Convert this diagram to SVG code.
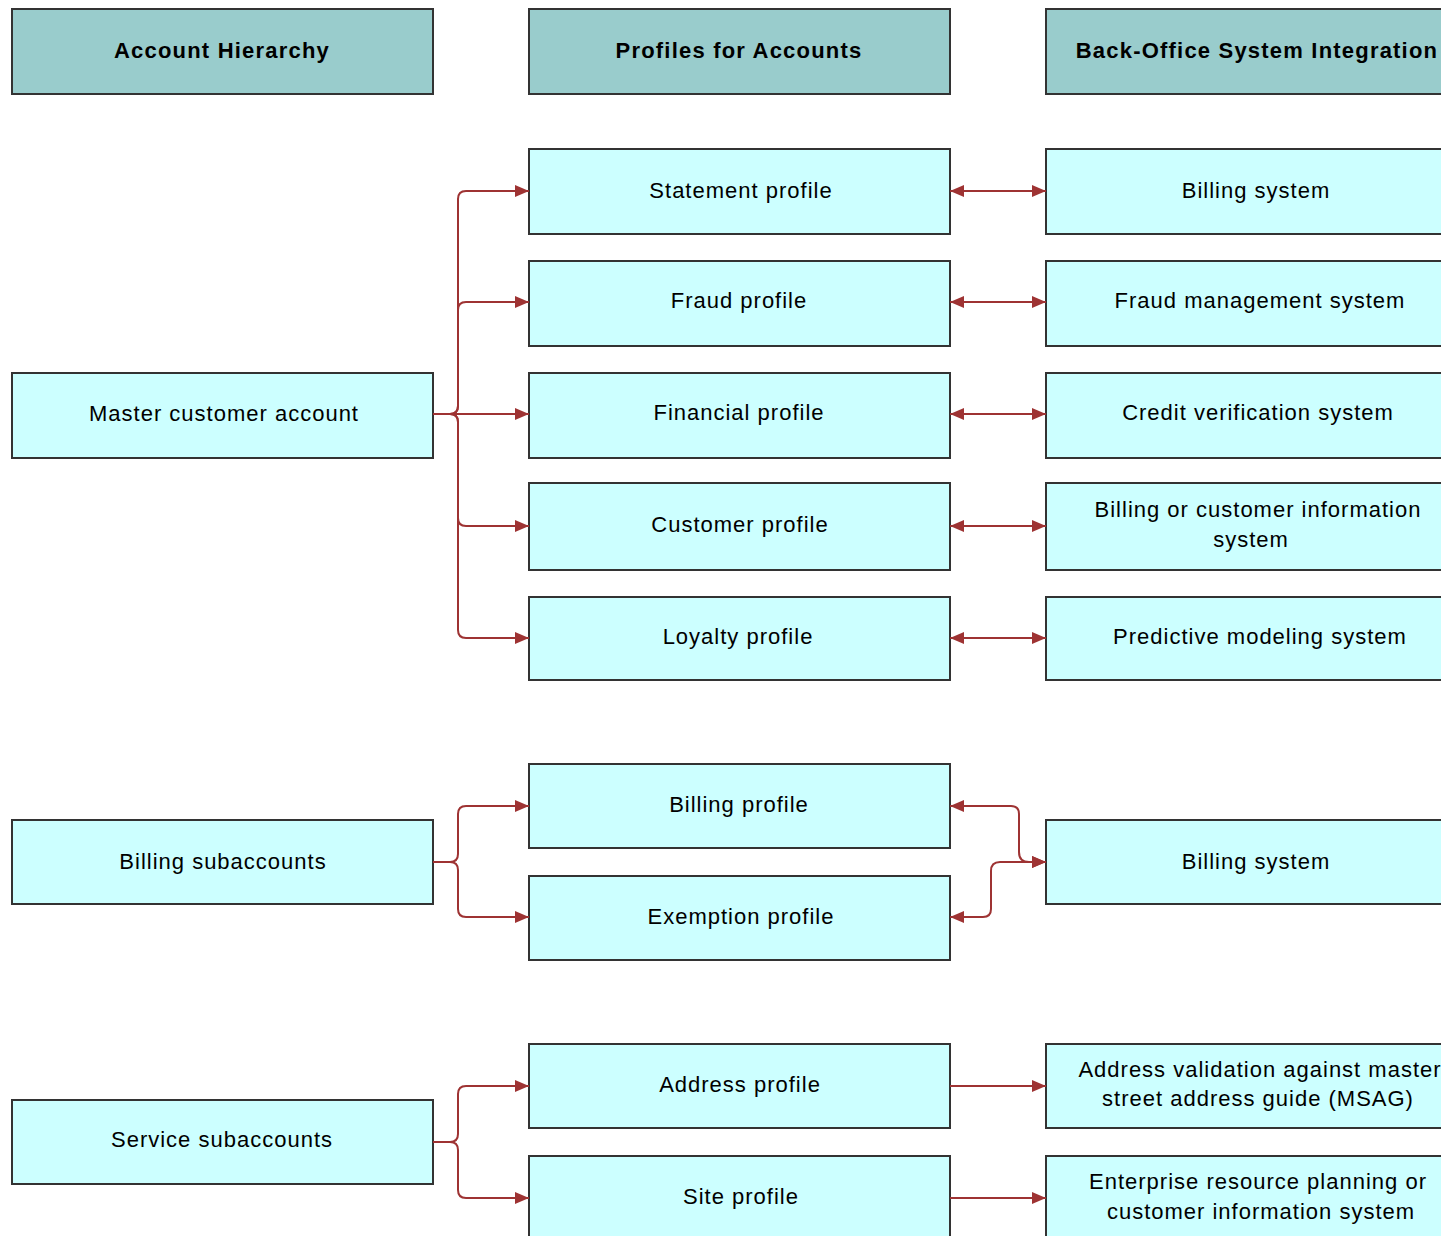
<svg xmlns="http://www.w3.org/2000/svg" width="1441" height="1236" viewBox="0 0 1441 1236">
<style>
.hdr rect{fill:#99CCCC;stroke:#333;stroke-width:2}
.box rect{fill:#CCFFFF;stroke:#333;stroke-width:2}
.hdr text{font-family:"Liberation Sans",Arial,sans-serif;font-size:22px;font-weight:bold;letter-spacing:1.2px;text-anchor:middle;fill:#000}
.box text{font-family:"Liberation Sans",Arial,sans-serif;font-size:22px;letter-spacing:1px;text-anchor:middle;fill:#000}
.conn path{fill:none;stroke:#9E3333;stroke-width:2}
</style>
<defs>
<marker id="ae" markerUnits="userSpaceOnUse" markerWidth="14" markerHeight="12" refX="14" refY="6" orient="auto">
<path d="M0,0 L14,6 L0,12 z" fill="#9E3333"/>
</marker>
<marker id="as" markerUnits="userSpaceOnUse" markerWidth="14" markerHeight="12" refX="0" refY="6" orient="auto">
<path d="M14,0 L0,6 L14,12 z" fill="#9E3333"/>
</marker>
</defs>
<rect width="1441" height="1236" fill="#fff"/>

<g id="h1" class="hdr"><rect x="12" y="9" width="421" height="85"/><text x="222" y="58">Account Hierarchy</text></g>
<g id="h2" class="hdr"><rect x="529" y="9" width="421" height="85"/><text x="739" y="58">Profiles for Accounts</text></g>
<g id="h3" class="hdr"><rect x="1046" y="9" width="421" height="85"/><text x="1257" y="58">Back-Office System Integration</text></g>

<g id="master" class="box"><rect x="12" y="373" width="421" height="85"/><text x="224" y="421">Master customer account</text></g>
<g id="billsub" class="box"><rect x="12" y="820" width="421" height="84"/><text x="223" y="869">Billing subaccounts</text></g>
<g id="servsub" class="box"><rect x="12" y="1100" width="421" height="84"/><text x="222" y="1147">Service subaccounts</text></g>

<g id="statement" class="box"><rect x="529" y="149" width="421" height="85"/><text x="741" y="198">Statement profile</text></g>
<g id="fraudp" class="box"><rect x="529" y="261" width="421" height="85"/><text x="739" y="308">Fraud profile</text></g>
<g id="financial" class="box"><rect x="529" y="373" width="421" height="85"/><text x="739" y="420">Financial profile</text></g>
<g id="customer" class="box"><rect x="529" y="483" width="421" height="87"/><text x="740" y="532">Customer profile</text></g>
<g id="loyalty" class="box"><rect x="529" y="597" width="421" height="83"/><text x="738" y="644">Loyalty profile</text></g>
<g id="billprof" class="box"><rect x="529" y="764" width="421" height="84"/><text x="739" y="812">Billing profile</text></g>
<g id="exempt" class="box"><rect x="529" y="876" width="421" height="84"/><text x="741" y="924">Exemption profile</text></g>
<g id="address" class="box"><rect x="529" y="1044" width="421" height="84"/><text x="740" y="1092">Address profile</text></g>
<g id="site" class="box"><rect x="529" y="1156" width="421" height="90"/><text x="741" y="1204">Site profile</text></g>

<g id="billsys1" class="box"><rect x="1046" y="149" width="421" height="85"/><text x="1256" y="198">Billing system</text></g>
<g id="fraudsys" class="box"><rect x="1046" y="261" width="421" height="85"/><text x="1260" y="308">Fraud management system</text></g>
<g id="credit" class="box"><rect x="1046" y="373" width="421" height="85"/><text x="1258" y="420">Credit verification system</text></g>
<g id="billcust" class="box"><rect x="1046" y="483" width="421" height="87"/><text x="1258" y="517">Billing or customer information</text><text x="1251" y="547">system</text></g>
<g id="predict" class="box"><rect x="1046" y="597" width="421" height="83"/><text x="1260" y="644">Predictive modeling system</text></g>
<g id="billsys2" class="box"><rect x="1046" y="820" width="421" height="84"/><text x="1256" y="869">Billing system</text></g>
<g id="msag" class="box"><rect x="1046" y="1044" width="421" height="84"/><text x="1260" y="1077">Address validation against master</text><text x="1258" y="1106">street address guide (MSAG)</text></g>
<g id="erp" class="box"><rect x="1046" y="1156" width="421" height="90"/><text x="1258" y="1189">Enterprise resource planning or</text><text x="1261" y="1219">customer information system</text></g>

<g id="connectors" class="conn">
<path d="M433,414 H450 Q458,414 458,406 V199 Q458,191 466,191 H529" marker-end="url(#ae)"/>
<path d="M433,414 H450 Q458,414 458,406 V310 Q458,302 466,302 H529" marker-end="url(#ae)"/>
<path d="M433,414 H529" marker-end="url(#ae)"/>
<path d="M433,414 H450 Q458,414 458,422 V518 Q458,526 466,526 H529" marker-end="url(#ae)"/>
<path d="M433,414 H450 Q458,414 458,422 V630 Q458,638 466,638 H529" marker-end="url(#ae)"/>

<path d="M950,191 H1046" marker-start="url(#as)" marker-end="url(#ae)"/>
<path d="M950,302 H1046" marker-start="url(#as)" marker-end="url(#ae)"/>
<path d="M950,414 H1046" marker-start="url(#as)" marker-end="url(#ae)"/>
<path d="M950,526 H1046" marker-start="url(#as)" marker-end="url(#ae)"/>
<path d="M950,638 H1046" marker-start="url(#as)" marker-end="url(#ae)"/>

<path d="M433,862 H450 Q458,862 458,854 V814 Q458,806 466,806 H529" marker-end="url(#ae)"/>
<path d="M433,862 H450 Q458,862 458,870 V909 Q458,917 466,917 H529" marker-end="url(#ae)"/>

<path d="M950,806 H1011 Q1019,806 1019,814 V852 Q1019,862 1029,862 H1046" marker-start="url(#as)" marker-end="url(#ae)"/>
<path d="M950,917 H983 Q991,917 991,909 V871 Q991,862 1000,862 H1046" marker-start="url(#as)" marker-end="url(#ae)"/>

<path d="M433,1142 H450 Q458,1142 458,1134 V1094 Q458,1086 466,1086 H529" marker-end="url(#ae)"/>
<path d="M433,1142 H450 Q458,1142 458,1150 V1190 Q458,1198 466,1198 H529" marker-end="url(#ae)"/>

<path d="M950,1086 H1046" marker-end="url(#ae)"/>
<path d="M950,1198 H1046" marker-end="url(#ae)"/>
</g>
</svg>
